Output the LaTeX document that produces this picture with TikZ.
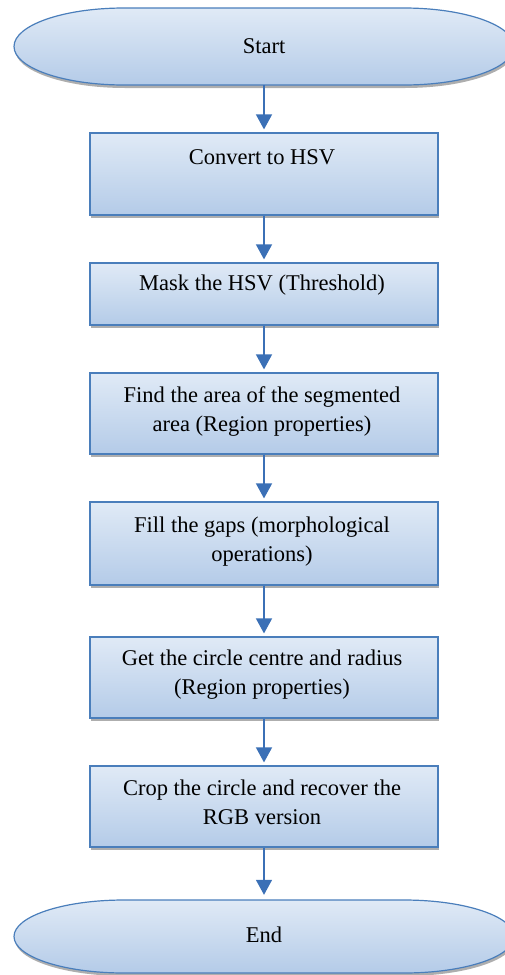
\documentclass[tikz,border=0pt]{standalone}
\usepackage{fontspec}
\setmainfont{Liberation Serif}
\usetikzlibrary{arrows.meta,shadows}
\definecolor{edge}{HTML}{4A7EBB}
\definecolor{ftop}{HTML}{E0EAF6}
\definecolor{fbot}{HTML}{B4CBE8}
\definecolor{arr}{HTML}{3B70B6}
\definecolor{shd}{HTML}{9A9A9A}
\tikzset{
 box/.style={draw=edge, line width=1.2pt, top color=ftop, bottom color=fbot,
   minimum width=348pt, inner sep=0pt,
   drop shadow={shadow xshift=1pt, shadow yshift=-3pt, fill=shd, opacity=0.8}},
 txt/.style={font=\fontsize{22.5}{29}\selectfont, align=center, inner sep=0pt},
 termnode/.style={minimum width=500pt, inner sep=0pt, font=\fontsize{22.5}{29}\selectfont},
 termfill/.style={draw=edge, line width=1.2pt, top color=ftop, bottom color=fbot},
 termshadow/.style={fill=shd, opacity=0.8},
 flow/.style={draw=arr, line width=1.5pt, -{Triangle[width=16pt,length=15pt]}, shorten >=3pt},
}
\newcommand\termpath[3]{% top, bottom, half height
  (124pt,-#1pt) -- (404pt,-#1pt) arc[start angle=90,end angle=-90,x radius=110pt,y radius=#3pt]
  -- (124pt,-#2pt) arc[start angle=270,end angle=90,x radius=110pt,y radius=#3pt] -- cycle}
\begin{document}
\begin{tikzpicture}[x=1pt,y=1pt]
\useasboundingbox (0,0) rectangle (505,-975);
% terminator shapes
\begin{scope}[xshift=1pt,yshift=-3pt]
  \path[termshadow] \termpath{8}{85}{38.5};
  \path[termshadow] \termpath{900}{973}{36.5};
\end{scope}
\path[termfill] \termpath{8}{85}{38.5};
\path[termfill] \termpath{900}{973}{36.5};
\node[termnode, minimum height=77pt] (start) at (264,-46.5) {Start};
\node[termnode, minimum height=73pt] (end) at (264,-934.5) {End};
% process boxes
\node[box, minimum height=82pt] (b1) at (264,-174) {};
\node[box, minimum height=62pt] (b2) at (264,-294) {};
\node[box, minimum height=81pt] (b3) at (264,-413.5) {};
\node[box, minimum height=83pt] (b4) at (264,-543.5) {};
\node[box, minimum height=81pt] (b5) at (264,-677.5) {};
\node[box, minimum height=81pt] (b6) at (264,-806.5) {};
% texts
\node[txt] (t1) at (262,-157) {Convert to HSV};
\node[txt] (t2) at (262,-285) {Mask the HSV (Threshold)};
\node[txt] (t3) at (262,-411.5) {Find the area of the segmented\\area (Region properties)};
\node[txt] (t4) at (262,-542) {Fill the gaps (morphological\\operations)};
\node[txt] (t5) at (262,-675) {Get the circle centre and radius\\(Region properties)};
\node[txt] (t6) at (262,-802.5) {Crop the circle and recover the\\RGB version};
% connectors
\draw[flow] (start.south) -- (b1.north);
\draw[flow] (b1.south) -- (b2.north);
\draw[flow] (b2.south) -- (b3.north);
\draw[flow] (b3.south) -- (b4.north);
\draw[flow] (b4.south) -- (b5.north);
\draw[flow] (b5.south) -- (b6.north);
\draw[flow] (b6.south) -- (end.north);
\end{tikzpicture}
\end{document}
